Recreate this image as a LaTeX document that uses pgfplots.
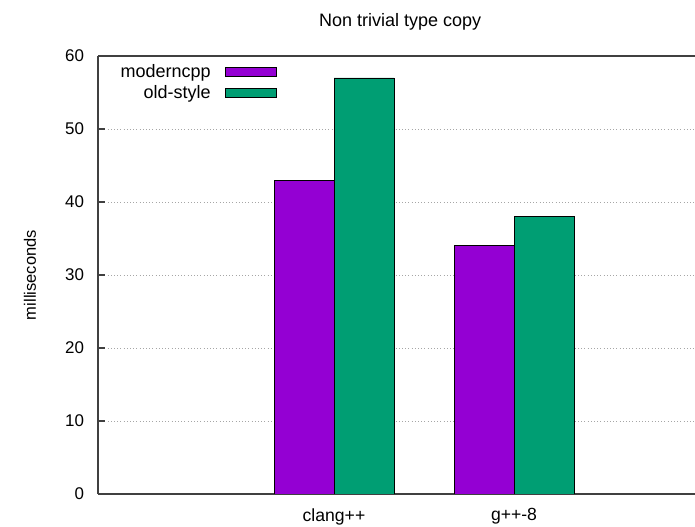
\documentclass[border=0pt]{standalone}
\usepackage{fontspec}
\setmainfont{Liberation Sans}
\usepackage{pgfplots}
\pgfplotsset{compat=1.18}

\definecolor{modernc}{HTML}{9400D3}
\definecolor{oldc}{HTML}{009E73}
\definecolor{framec}{HTML}{404040}

\begin{document}
\begin{tikzpicture}
\useasboundingbox (0pt,0pt) rectangle (521.25pt,395.25pt);
\begin{axis}[
  at={(73.5pt,24.75pt)}, anchor=south west,
  scale only axis,
  width=447.75pt, height=328.5pt,
  xmin=-1.3111, xmax=2.0056,
  ymin=0, ymax=60,
  axis x line=box, axis y line=left,
  axis line style={framec, line width=1pt, -},
  xtick={0,1}, xticklabels={clang++, g++-8},
  xtick style={draw=none},
  ytick={0,10,...,60},
  ytick style={framec, line width=0.8pt},
  tick align=inside,
  major tick length=5pt,
  ymajorgrids,
  grid style={gray!70, dotted, line width=0.6pt},
  /pgf/number format/assume math mode=true,
  yticklabel style={xshift=-7pt, font=\fontsize{12.7}{15}\selectfont},
  xticklabel style={yshift=-7.5pt, font=\fontsize{13.2}{15}\selectfont},
  title={Non trivial type copy},
  title style={at={(0.506,1)}, anchor=south, yshift=10pt, font=\fontsize{13.5}{16}\selectfont},
  ylabel={milliseconds},
  ylabel style={at={(-0.1139,0.5)}, anchor=center, font=\fontsize{12.4}{15}\selectfont},
  bar width=0.3333,
  legend plot pos=right,
  legend cell align=right,
  legend style={at={(0.2999,0.982)}, anchor=north east, draw=none, fill=none,
    inner sep=0pt, row sep=3.7pt, font=\fontsize{13.5}{16}\selectfont,
    nodes={inner sep=0pt, text height=9.8pt, text depth=2.2pt},
    /tikz/every odd column/.append style={column sep=11pt}},
  legend image code/.code={\draw[#1, draw=black, line width=0.6pt] (0pt,-3.4pt) rectangle (38pt,3.4pt);},
]
\addplot[ybar, bar shift=-0.16667, fill=modernc, draw=black, line width=0.6pt]
  coordinates {(0,43) (1,34)};
\addlegendentry{moderncpp}
\addplot[ybar, bar shift=0.16667, fill=oldc, draw=black, line width=0.6pt]
  coordinates {(0,57) (1,38)};
\addlegendentry{old-style}
\end{axis}
\end{tikzpicture}
\end{document}
